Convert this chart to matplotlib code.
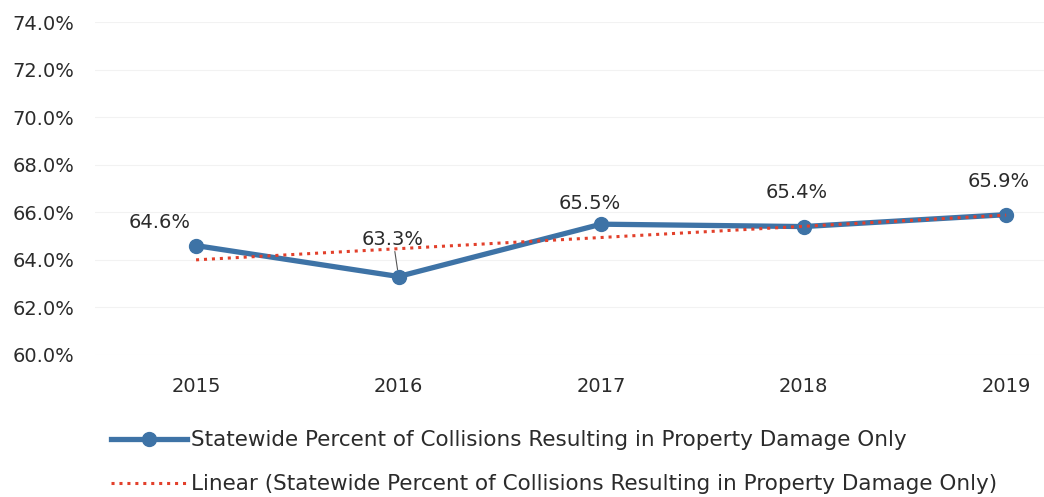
import numpy as np
import matplotlib
matplotlib.use("Agg")
import matplotlib.pyplot as plt

plt.rcParams['font.family'] = ['DejaVu Sans']

years = ['2015', '2016', '2017', '2018', '2019']
pct = [64.6, 63.3, 65.5, 65.4, 65.9]
yticks = [60, 62, 64, 66, 68, 70, 72, 74]
# label offsets in points (dx, dy)
lab_off = [(-26, 10), (-4, 20), (-8, 8), (-5, 18), (-5, 17)]

blue = '#3E73A6'
red = '#E2402B'
txt = '#2b2b2b'

x = np.arange(len(years))
fit = np.polyval(np.polyfit(x, pct, 1), x)

fig = plt.figure(figsize=(10.44, 4.97), dpi=100)
ax = fig.add_axes([95/1044, 1-355/497, 949/1044, (355-22)/497])

for v in yticks:
    ax.axhline(v, color='#f2f2f2', lw=0.8, zorder=0)

l1, = ax.plot(x, pct, color=blue, lw=3.8, marker='o', ms=10,
              mfc=blue, mec=blue, zorder=3,
              label='Statewide Percent of Collisions Resulting in Property Damage Only')
l2, = ax.plot(x, fit, color=red, lw=2.2, ls=(0, (1, 1.6)), zorder=4,
              label='Linear (Statewide Percent of Collisions Resulting in Property Damage Only)')

for i, v in enumerate(pct):
    dx, dy = lab_off[i]
    if i == 1:
        ax.annotate(f'{v:.1f}%', (x[i], v), xytext=(dx, dy), textcoords='offset points',
                    ha='center', va='bottom', fontsize=14, color=txt,
                    arrowprops=dict(arrowstyle='-', color='#555555', lw=0.8,
                                    shrinkA=0, shrinkB=5))
    else:
        ax.annotate(f'{v:.1f}%', (x[i], v), xytext=(dx, dy), textcoords='offset points',
                    ha='center', va='bottom', fontsize=14, color=txt)

ax.set_ylim(60, 74)
ax.set_yticks(yticks)
ax.set_yticklabels([f'{v:.1f}%' for v in yticks])
ax.set_xlim(-0.499, 4.187)
ax.set_xticks(x)
ax.set_xticklabels(years)
ax.tick_params(length=0, labelsize=14, colors=txt)
ax.tick_params(axis='y', pad=15)
ax.tick_params(axis='x', pad=16)
for s in ax.spines.values():
    s.set_visible(False)

fig.legend(handles=[l1, l2], loc='upper left', bbox_to_anchor=(92/1044, 1-411/497),
           frameon=False, fontsize=15.5, handlelength=3.5, handletextpad=0.2,
           labelspacing=1.1, labelcolor=txt)

fig.savefig('out.png', dpi=100)
